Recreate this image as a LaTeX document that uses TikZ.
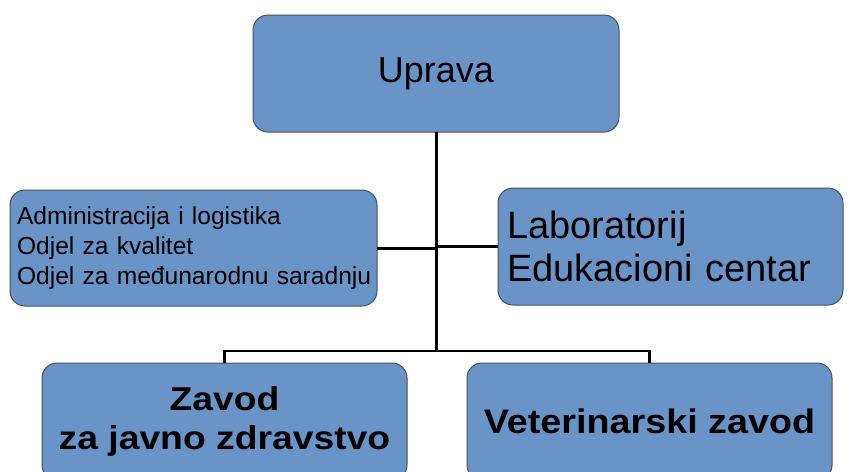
\documentclass[tikz,border=0pt]{standalone}
\usepackage{fontspec}
\setmainfont{Liberation Sans}
\usetikzlibrary{calc}
\definecolor{boxblue}{RGB}{106,147,199}
\definecolor{boxedge}{RGB}{70,80,95}
\begin{document}
\begin{tikzpicture}[x=1pt,y=-1pt,
  orgbox/.style={draw=boxedge,line width=1pt,fill=boxblue,rounded corners=15pt,
    inner sep=0pt,outer sep=0pt,anchor=center},
  link/.style={draw=black,line width=3pt},
  thinlink/.style={draw=black,line width=2.5pt}]
\useasboundingbox (0,0) rectangle (851,471);
\node[orgbox,minimum width=366pt,minimum height=117pt,
  font=\fontsize{36}{40}\selectfont] (upr) at (436,73.5) {Uprava};
\node[orgbox,minimum width=367pt,minimum height=116pt,text width=353pt,
  inner xsep=7pt,align=left,font=\fontsize{24.6}{30}\selectfont] (adm) at (193.5,248)
  {\mbox{Administracija i logistika}\\\mbox{Odjel za kvalitet}\\\mbox{Odjel za međunarodnu saradnju}};
\node[orgbox,minimum width=345pt,minimum height=117pt,text width=327pt,
  inner xsep=9pt,align=left,font=\fontsize{38}{43}\selectfont] (lab) at (670.5,246.5)
  {Laboratorij\\Edukacioni centar};
\node[orgbox,minimum width=365pt,minimum height=117pt,align=center,
  font=\fontsize{33}{39}\selectfont\bfseries] (zav) at (224.5,421.5)
  {\scalebox{1.13}[1]{Zavod}\\\scalebox{1.13}[1]{za javno zdravstvo}};
\node[orgbox,minimum width=365pt,minimum height=117pt,align=center,
  font=\fontsize{34}{39}\selectfont\bfseries] (vet) at (649.5,421.5)
  {\scalebox{1.11}[1]{Veterinarski zavod}};
\coordinate (j) at (436,351);
\draw[link] (upr.south) -- (j);
\draw[link] (adm.east) -- (adm.east -| upr.south);
\draw[link] (lab.west) -- (lab.west -| upr.south);
\draw[thinlink] (zav.north) |- (j) -| (vet.north);
\end{tikzpicture}
\end{document}
